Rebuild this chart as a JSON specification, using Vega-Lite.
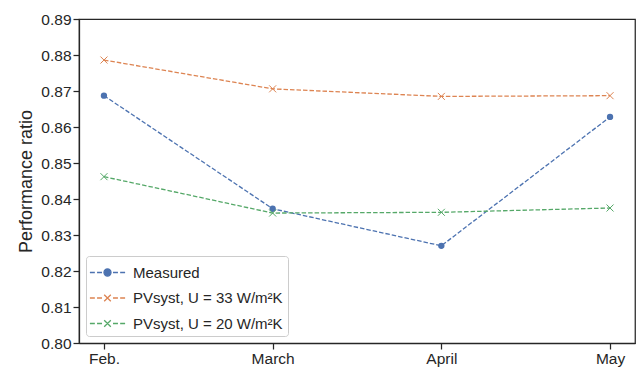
{
  "$schema": "https://vega.github.io/schema/vega-lite/v6.json",
  "width": 556,
  "height": 324,
  "autosize": {"type": "none"},
  "padding": {"left": 79, "top": 19, "right": 3, "bottom": 25},
  "background": "white",
  "config": {
    "font": "Liberation Sans",
    "view": {"stroke": "#262626", "strokeWidth": 1.25},
    "axis": {
      "grid": false,
      "domainColor": "#262626",
      "domainWidth": 1.25,
      "tickColor": "#262626",
      "tickWidth": 1.25,
      "tickSize": 6,
      "labelColor": "#262626",
      "labelFont": "Liberation Sans",
      "labelFontSize": 15.5,
      "titleFont": "Liberation Sans",
      "titleColor": "#262626",
      "titleFontWeight": "normal",
      "titleFontSize": 18
    }
  },
  "data": {
    "values": [
      {"month": "Feb.", "series": "Measured", "pr": 0.8687},
      {"month": "March", "series": "Measured", "pr": 0.8373},
      {"month": "April", "series": "Measured", "pr": 0.8270},
      {"month": "May", "series": "Measured", "pr": 0.8628},
      {"month": "Feb.", "series": "PVsyst, U = 33 W/m²K", "pr": 0.8786},
      {"month": "March", "series": "PVsyst, U = 33 W/m²K", "pr": 0.8706},
      {"month": "April", "series": "PVsyst, U = 33 W/m²K", "pr": 0.8685},
      {"month": "May", "series": "PVsyst, U = 33 W/m²K", "pr": 0.8687},
      {"month": "Feb.", "series": "PVsyst, U = 20 W/m²K", "pr": 0.8462},
      {"month": "March", "series": "PVsyst, U = 20 W/m²K", "pr": 0.8361},
      {"month": "April", "series": "PVsyst, U = 20 W/m²K", "pr": 0.8363},
      {"month": "May", "series": "PVsyst, U = 20 W/m²K", "pr": 0.8375}
    ]
  },
  "encoding": {
    "x": {
      "field": "month",
      "type": "ordinal",
      "sort": ["Feb.", "March", "April", "May"],
      "scale": {"type": "point", "padding": 0.148},
      "axis": {"title": null, "labelAngle": 0, "labelPadding": 2}
    },
    "y": {
      "field": "pr",
      "type": "quantitative",
      "scale": {"domain": [0.80, 0.89], "nice": false, "zero": false},
      "axis": {
        "title": "Performance ratio",
        "values": [0.80, 0.81, 0.82, 0.83, 0.84, 0.85, 0.86, 0.87, 0.88, 0.89],
        "format": ".2f",
        "labelPadding": 2,
        "titlePadding": 5
      }
    },
    "color": {
      "field": "series",
      "type": "nominal",
      "scale": {
        "domain": ["Measured", "PVsyst, U = 33 W/m²K", "PVsyst, U = 20 W/m²K"],
        "range": ["#4C72B0", "#DD8452", "#55A868"]
      }
    }
  },
  "layer": [
    {
      "mark": {"type": "line", "strokeDash": [4.5, 2], "strokeWidth": 1.3},
      "encoding": {
        "color": {
          "field": "series",
          "type": "nominal",
          "scale": {
            "domain": ["Measured", "PVsyst, U = 33 W/m²K", "PVsyst, U = 20 W/m²K"],
            "range": ["#4C72B0", "#DD8452", "#55A868"]
          },
          "legend": {
            "title": null,
            "orient": "bottom-left",
            "offset": 7,
            "padding": 4.5,
            "rowPadding": 5.5,
            "symbolSize": 484,
            "symbolOffset": 5,
            "labelOffset": 13.5,
            "labelFontSize": 15,
            "labelFont": "Liberation Sans",
            "labelColor": "#262626",
            "strokeColor": "#cccccc",
            "fillColor": "rgba(255,255,255,0.8)",
            "cornerRadius": 3,
            "symbolStrokeWidth": 1.3,
            "encode": {
              "symbols": {
                "update": {
                  "shape": {"signal": "datum.value === 'Measured' ? 'M-1.6,0H-1.15M-0.95,0H-0.5M0.5,0H0.95M1.15,0H1.6M-0.32,0A0.32,0.32,0,1,0,0.32,0A0.32,0.32,0,1,0,-0.32,0Z' : 'M-1.6,0H-1.15M-0.95,0H-0.5M0.5,0H0.95M1.15,0H1.6M-0.3,-0.3L0.3,0.3M-0.3,0.3L0.3,-0.3'"},
                  "fill": {"signal": "datum.value === 'Measured' ? '#4C72B0' : 'transparent'"},
                  "fillOpacity": {"value": 1},
                  "strokeDash": {"value": []}
                }
              }
            }
          }
        }
      }
    },
    {
      "transform": [{"filter": "datum.series === 'Measured'"}],
      "mark": {"type": "point", "shape": "circle", "filled": true, "size": 40, "opacity": 1},
      "encoding": {"color": {"field": "series", "type": "nominal", "legend": null}}
    },
    {
      "transform": [{"filter": "datum.series !== 'Measured'"}],
      "mark": {"type": "point", "shape": "M-1,-1L1,1M-1,1L1,-1", "filled": false, "size": 49, "strokeWidth": 1, "opacity": 1},
      "encoding": {"color": {"field": "series", "type": "nominal", "legend": null}}
    }
  ]
}
